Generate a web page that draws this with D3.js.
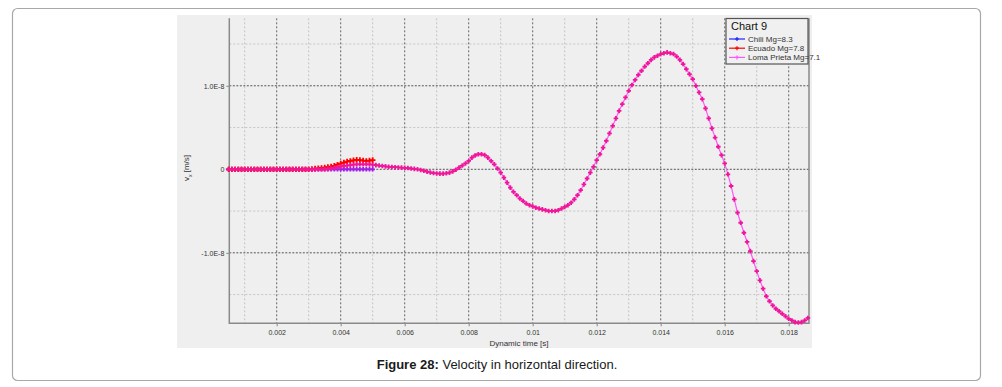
<!DOCTYPE html>
<html>
<head>
<meta charset="utf-8">
<script src="https://unpkg.com/d3@7/dist/d3.min.js"></script>
<style>
  body { margin: 0; background: #fff; }
  svg { display: block; font-family: "Liberation Sans", Arial, sans-serif; }
</style>
</head>
<body>
<div class="chart"></div>
<script>
// time grid of the solver output
const timeStart = 0.0005;
const timeStep = 0.0001;

// v_x in units of 1e-8 m/s
const chiliValues = [
  0, 0, 0, 0, 0, 0, 0, 0, 0, 0, 0, 0, 0, 0, 0, 0, 0, 0, 0, 0,
  0, 0, 0, 0, 0, 0, 0, 0, 0, 0, 0, 0, 0, 0, 0, 0, 0, 0, 0, 0,
  0, 0, 0, 0, 0, 0
];

const ecuadorValues = [
  0, 0, 0, 0, 0, 0, 0, 0, 0, 0, 0, 0, 0, 0, 0, 0, 0, 0, 0, 0,
  0, 0, 0, 0, 0, 0, 0.003, 0.008, 0.012, 0.016, 0.02, 0.026, 0.032, 0.042, 0.055, 0.068,
  0.08, 0.092, 0.1, 0.108, 0.113, 0.11, 0.105, 0.1, 0.105, 0.11
];

const lomaPrietaValues = [
  // 0.0005 - 0.0035
  0, 0, 0, 0, 0, 0, 0, 0, 0, 0, 0, 0, 0, 0, 0, 0, 0, 0, 0, 0,
  0, 0, 0, 0, 0, 0, 0, 0, 0, 0, 0,
  // 0.0036 - 0.0079
  0.005, 0.01, 0.018, 0.025, 0.032, 0.04, 0.045, 0.05, 0.055, 0.058,
  0.06, 0.06, 0.06, 0.058, 0.055, 0.05, 0.045, 0.04, 0.035, 0.03,
  0.028, 0.025, 0.022, 0.02, 0.018, 0.015, 0.01, 0.005, 0, -0.008,
  -0.018, -0.028, -0.038, -0.045, -0.05, -0.052, -0.052, -0.048, -0.04, -0.025,
  -0.005, 0.02, 0.045, 0.07,
  // 0.0080 - 0.0119
  0.1, 0.14, 0.165, 0.18, 0.18, 0.17, 0.14, 0.1, 0.06, 0.01,
  -0.04, -0.1, -0.16, -0.22, -0.27, -0.31, -0.35, -0.38, -0.41, -0.43,
  -0.445, -0.46, -0.47, -0.48, -0.49, -0.5, -0.5, -0.5, -0.49, -0.47,
  -0.45, -0.43, -0.4, -0.36, -0.31, -0.25, -0.18, -0.11, -0.04, 0.03,
  // 0.0120 - 0.0159
  0.11, 0.18, 0.26, 0.34, 0.43, 0.52, 0.61, 0.7, 0.78, 0.86,
  0.94, 1.01, 1.07, 1.13, 1.18, 1.23, 1.27, 1.31, 1.34, 1.36,
  1.38, 1.39, 1.4, 1.39, 1.38, 1.35, 1.31, 1.26, 1.2, 1.14,
  1.08, 1.0, 0.92, 0.84, 0.73, 0.61, 0.49, 0.38, 0.27, 0.17,
  // 0.0160 - 0.0186
  0.07, -0.06, -0.2, -0.36, -0.52, -0.64, -0.76, -0.87, -0.98, -1.1,
  -1.22, -1.33, -1.43, -1.52, -1.58, -1.63, -1.67, -1.7, -1.73, -1.76,
  -1.79, -1.81, -1.83, -1.835, -1.83, -1.81, -1.78
];

const seriesNames = ["Chili Mg=8.3", "Ecuado Mg=7.8", "Loma Prieta Mg=7.1"];
const xTicks = [0.002, 0.004, 0.006, 0.008, 0.01, 0.012, 0.014, 0.016, 0.018];
const xTickLabels = ["0.002", "0.004", "0.006", "0.008", "0.01", "0.012", "0.014", "0.016", "0.018"];
const xMinorTicks = [0.001, 0.003, 0.005, 0.007, 0.009, 0.011, 0.013, 0.015, 0.017];
const yTicks = [-1, 0, 1];
const yTickLabels = ["-1.0E-8", "0", "1.0E-8"];
const yMinorTicks = [-1.5, -0.5, 0.5, 1.5];

const W = 1002, H = 387;
const plot = { left: 229.3, right: 809, top: 18.3, bottom: 323.3 };

const svg = d3.select(".chart").append("svg")
  .attr("width", W).attr("height", H);

// outer figure frame
svg.append("rect")
  .attr("x", 12.5).attr("y", 8.5).attr("width", 968).attr("height", 372)
  .attr("rx", 5).attr("fill", "#fff").attr("stroke", "#a8a8a8").attr("stroke-width", 1.2);

// chart panel
svg.append("rect")
  .attr("x", 177).attr("y", 15).attr("width", 635).attr("height", 333)
  .attr("fill", "#efefef");

const xScale = d3.scaleLinear().domain([0.000519, 0.018634]).range([plot.left, plot.right]);
const yScale = d3.scaleLinear().domain([-1.844, 1.808]).range([plot.bottom, plot.top]);

const toPoints = vals => vals.map((v, i) => ({ t: timeStart + i * timeStep, v: v }));
const series = [
  { name: seriesNames[0], data: toPoints(chiliValues), line: "#3030ff", mark: "#a020e8", key: "#2020ff", r: 2.2 },
  { name: seriesNames[1], data: toPoints(ecuadorValues), line: "#ff0000", mark: "#ff0000", key: "#ff0000", r: 2.8 },
  { name: seriesNames[2], data: toPoints(lomaPrietaValues), line: "#ff55ff", mark: "#f0169a", key: "#ff55ff", r: 2.3 }
];

// grid
const grid = svg.append("g");
grid.selectAll(".xminor").data(xMinorTicks).join("line")
  .attr("x1", d => xScale(d)).attr("x2", d => xScale(d))
  .attr("y1", plot.top).attr("y2", plot.bottom)
  .attr("stroke", "#c4c4c4").attr("stroke-dasharray", "2,2");
grid.selectAll(".yminor").data(yMinorTicks).join("line")
  .attr("y1", d => yScale(d)).attr("y2", d => yScale(d))
  .attr("x1", plot.left).attr("x2", plot.right)
  .attr("stroke", "#c4c4c4").attr("stroke-dasharray", "2,2");
grid.selectAll(".xmajor").data(xTicks).join("line")
  .attr("x1", d => xScale(d)).attr("x2", d => xScale(d))
  .attr("y1", plot.top).attr("y2", plot.bottom)
  .attr("stroke", "#666").attr("stroke-dasharray", "2,2");
grid.selectAll(".ymajor").data(yTicks).join("line")
  .attr("y1", d => yScale(d)).attr("y2", d => yScale(d))
  .attr("x1", plot.left).attr("x2", plot.right)
  .attr("stroke", "#555").attr("stroke-dasharray", "2,1.5");

// axes
const xAxis = d3.axisBottom(xScale).tickValues(xTicks)
  .tickFormat((d, i) => xTickLabels[i]).tickSize(3).tickPadding(4);
svg.append("g").attr("transform", `translate(0,${plot.bottom})`).call(xAxis)
  .call(g => g.select(".domain").remove())
  .call(g => g.selectAll("line").attr("stroke", "#888"))
  .call(g => g.selectAll("text").attr("font-size", 7).attr("fill", "#333")
    .attr("font-family", "Liberation Sans, Arial, sans-serif"));

const yAxis = d3.axisLeft(yScale).tickValues(yTicks)
  .tickFormat((d, i) => yTickLabels[i]).tickSize(3).tickPadding(2);
svg.append("g").attr("transform", `translate(${plot.left},0)`).call(yAxis)
  .call(g => g.select(".domain").remove())
  .call(g => g.selectAll("line").attr("stroke", "#888"))
  .call(g => g.selectAll("text").attr("font-size", 7).attr("fill", "#333")
    .attr("font-family", "Liberation Sans, Arial, sans-serif"));

// frame: left, bottom, right
svg.append("path")
  .attr("d", `M${plot.left},${plot.top}V${plot.bottom}H${plot.right}V${plot.top}`)
  .attr("fill", "none").attr("stroke", "#8a8a8a").attr("stroke-width", 1.5);

// series
const line = d3.line().x(d => xScale(d.t)).y(d => yScale(d.v));
const plus = r => `M${-r},0H${r}M0,${-r}V${r}`;

series.forEach(s => {
  const g = svg.append("g");
  g.append("path").datum(s.data)
    .attr("d", line).attr("fill", "none")
    .attr("stroke", s.line).attr("stroke-width", 1.2);
  g.selectAll("path.mk").data(s.data).join("path")
    .attr("class", "mk")
    .attr("transform", d => `translate(${xScale(d.t)},${yScale(d.v)})`)
    .attr("d", plus(s.r))
    .attr("stroke", s.mark).attr("stroke-width", 1.8);
});

// axis titles
svg.append("text")
  .attr("x", 519).attr("y", 346)
  .attr("text-anchor", "middle").attr("font-size", 8).attr("fill", "#333")
  .text("Dynamic time [s]");

const yTitle = svg.append("text")
  .attr("transform", "translate(189,168) rotate(-90)")
  .attr("text-anchor", "middle").attr("font-size", 8).attr("fill", "#333");
yTitle.append("tspan").text("v");
yTitle.append("tspan").attr("dy", 3).attr("font-size", 5).text("x");
yTitle.append("tspan").attr("dy", -3).text("  [m/s]");

// legend
const legend = svg.append("g");
legend.append("rect")
  .attr("x", 726).attr("y", 18.5).attr("width", 82).attr("height", 45.5)
  .attr("fill", "#f0f0f0").attr("stroke", "#555").attr("stroke-width", 1.2);
legend.append("text")
  .attr("x", 731).attr("y", 30).attr("font-size", 11).attr("fill", "#111")
  .text("Chart 9");
const entry = legend.selectAll(".entry").data(series).join("g")
  .attr("transform", (d, i) => `translate(729,${39 + i * 9.2})`);
entry.append("line").attr("x1", 0).attr("x2", 16)
  .attr("stroke", d => d.key).attr("stroke-width", 1.2);
entry.append("path").attr("transform", "translate(8,0)").attr("d", plus(2))
  .attr("stroke", d => d.key).attr("stroke-width", 1.2);
entry.append("text").attr("x", 19).attr("y", 2.8)
  .attr("font-size", 8).attr("fill", "#333").text(d => d.name);

// caption
const cap = svg.append("text")
  .attr("x", 497).attr("y", 369).attr("text-anchor", "middle")
  .attr("font-size", 13).attr("fill", "#1a1a1a");
cap.append("tspan").attr("font-weight", "bold").text("Figure 28:");
cap.append("tspan").text(" Velocity in horizontal direction.");
</script>
</body>
</html>
